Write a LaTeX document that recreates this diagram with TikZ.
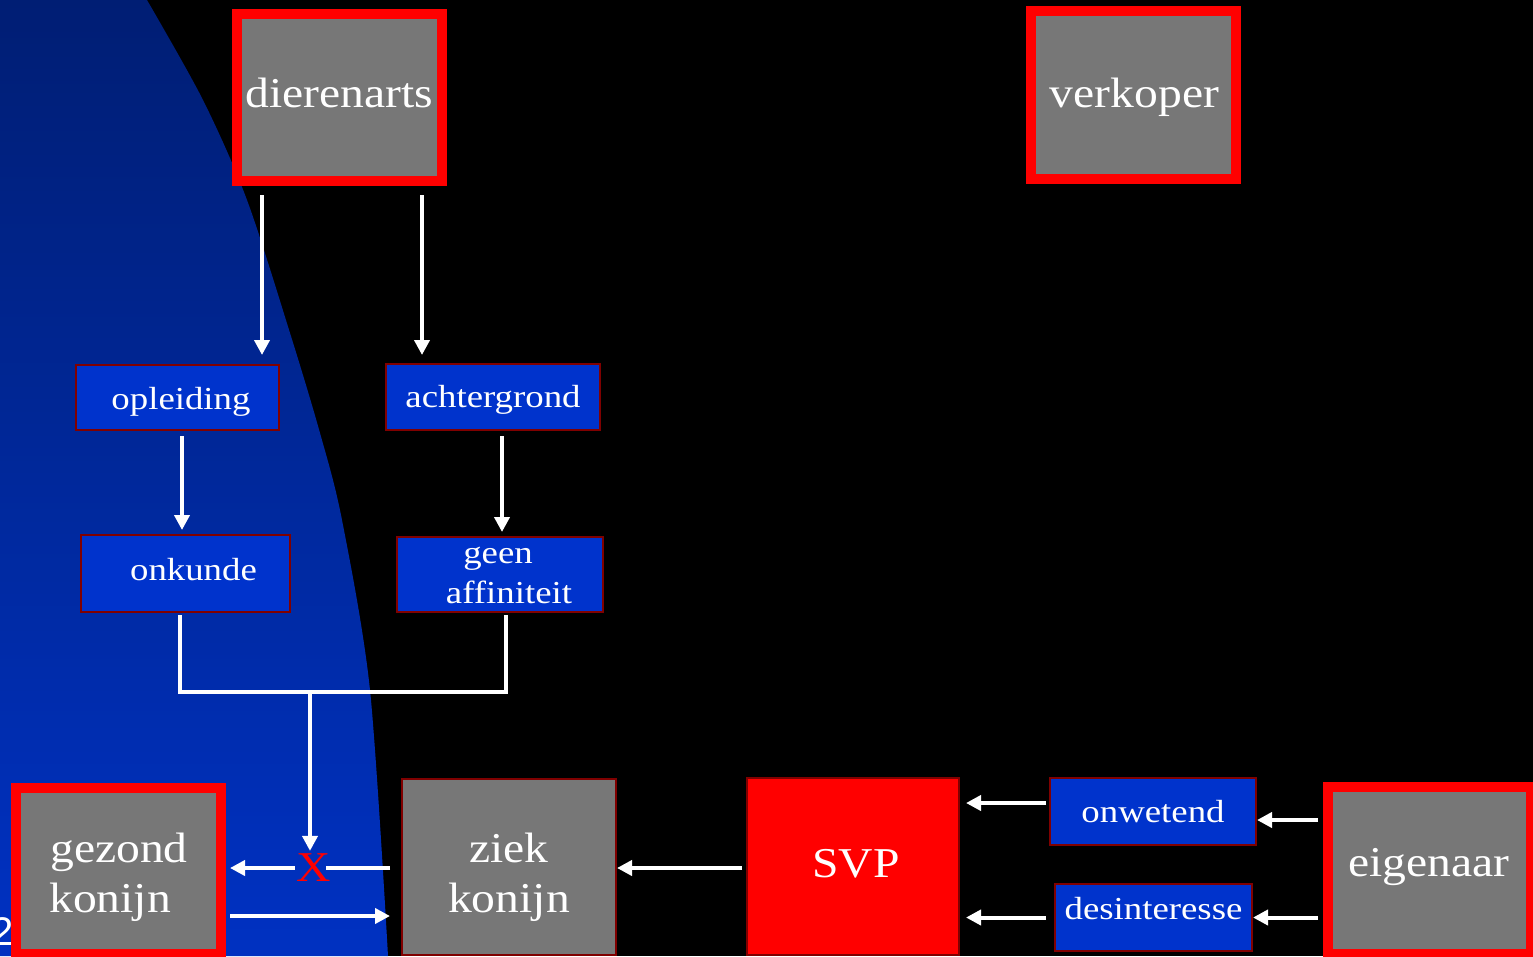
\documentclass[tikz,border=0pt]{standalone}
\usepackage{fontspec}
\setmainfont{Liberation Serif}
\newfontfamily\bigserif[FakeStretch=1.12]{Liberation Serif}
\newfontfamily\smallserif[FakeStretch=1.15]{Liberation Serif}
\newfontfamily\sansfam{Liberation Sans}
\usetikzlibrary{arrows.meta,calc}
\definecolor{boxgray}{HTML}{777777}
\definecolor{boxblue}{HTML}{0033CC}
\definecolor{edgered}{HTML}{800000}
\pgfdeclareverticalshading{bluefade}{100bp}{rgb(0bp)=(0,0.2,0.8); rgb(27bp)=(0,0.19,0.75); rgb(48bp)=(0,0.16,0.62); rgb(79bp)=(0,0.11,0.43); rgb(100bp)=(0,0.06,0.28)}
% text line with its baseline #1 below the node centre
\newcommand\lwr[2]{\raisebox{-#1}[0pt][0pt]{#2}}
\begin{document}
\begin{tikzpicture}[x=1pt,y=-1pt,
  bigbox/.style={draw=red, line width=10pt, fill=boxgray, text=white, inner sep=0pt, align=center,
    font=\bigserif\fontsize{42.5}{50}\selectfont, minimum width=205pt, minimum height=167pt},
  flatbox/.style={draw=edgered, line width=2pt, fill=boxgray, text=white, inner sep=0pt, align=center,
    font=\bigserif\fontsize{42.5}{50}\selectfont},
  svpbox/.style={draw=edgered, line width=2pt, fill=red, text=white, inner sep=0pt, align=center,
    font=\bigserif\fontsize{42.5}{50}\selectfont},
  smallbox/.style={draw=edgered, line width=2pt, fill=boxblue, text=white, inner sep=0pt, align=center,
    font=\smallserif\fontsize{32}{40}\selectfont},
  arr/.style={draw=white, line width=4pt, -{Triangle[width=15pt,length=15pt]}},
  ln/.style={draw=white, line width=4pt}
]
\useasboundingbox (0,0) rectangle (1533,956);
\fill[black] (0,0) rectangle (1533,956);
\begin{scope}
  \clip plot[smooth] coordinates {(147,0) (203,100) (247,200) (290,333) (320,433) (342,520) (370,690) (388,956)} -- (0,956) -- (0,0) -- cycle;
  \shade[shading=bluefade] (0,0) rectangle (400,956);
\end{scope}

\node[anchor=base east, text=white, inner sep=0pt, font=\sansfam\fontsize{40}{48}\selectfont] (pg) at (14,945) {2};

% big boxes
\node[bigbox] (dier) at (339.5,97.5) {\lwr{9.5pt}{dierenarts}};
\node[bigbox, minimum height=168pt] (verk) at (1133,95) {\hspace*{3pt}\lwr{12pt}{verkoper}};
\node[bigbox, align=left, minimum height=166pt] (gez) at (118,871) {\lwr{16pt}{\hspace*{2pt}gezond}\\\lwr{16pt}{\hspace*{1pt}konijn}};
\node[bigbox, minimum width=203pt] (eig) at (1429,870) {\lwr{6pt}{eigenaar}};
\node[flatbox, minimum width=214pt, minimum height=176pt] (zk) at (509,867) {\lwr{20pt}{ziek}\\\lwr{20pt}{konijn}};
\node[svpbox, minimum width=212pt, minimum height=177pt] (svp) at (853,866) {\hspace*{6pt}\lwr{11pt}{SVP}};

% small boxes
\node[smallbox, minimum width=203pt, minimum height=65pt] (opl) at (177.5,397.5) {\hspace*{7pt}\lwr{11.8pt}{opleiding}};
\node[smallbox, minimum width=214pt, minimum height=66pt] (ach) at (493,397) {\lwr{10pt}{achtergrond}};
\node[smallbox, minimum width=209pt, minimum height=77pt] (onk) at (185.5,573.5) {\hspace*{16pt}\lwr{6.5pt}{onkunde}};
\node[smallbox, minimum width=206pt, minimum height=75pt] (gaf) at (500,574.5) {\lwr{8.5pt}{geen}\hspace*{4pt}\\\hspace*{18pt}\lwr{8.5pt}{affiniteit}};
\node[smallbox, minimum width=206pt, minimum height=67pt] (onw) at (1153,811.5) {\lwr{10.5pt}{onwetend}};
\node[smallbox, minimum width=197pt, minimum height=67pt] (des) at (1153.5,917.5) {\lwr{1.5pt}{desinteresse}};

\node[text=red, inner sep=0pt, font=\bigserif\fontsize{42.5}{50}\selectfont] (xm) at (314,868) {X};
\coordinate (j) at (310,692);

% connectors
\draw[arr, shorten <=9pt, shorten >=9pt] ([xshift=-77.5pt]dier.south) -- ([xshift=-77.5pt]dier.south |- opl.north);
\draw[arr, shorten <=9pt, shorten >=8pt] ([xshift=82.5pt]dier.south) -- ([xshift=82.5pt]dier.south |- ach.north);
\draw[arr, shorten <=5pt, shorten >=4pt] ([xshift=4.5pt]opl.south) -- ([xshift=4.5pt]opl.south |- onk.north);
\draw[arr, shorten <=5pt, shorten >=4pt] ([xshift=9pt]ach.south) -- ([xshift=9pt]ach.south |- gaf.north);
\draw[ln, shorten <=2pt, shorten >=2pt] ([xshift=-5.5pt]onk.south) |- (j) -| ([xshift=6pt]gaf.south);
\draw[arr, shorten >=3pt] (j) -- (j |- xm.north);
\draw[ln, shorten <=11pt, shorten >=-5pt] (zk.west |- xm) -- (xm.east);
\draw[arr, shorten <=2pt, shorten >=4.5pt] (xm.west) -- (xm.west -| gez.east);
\draw[arr, shorten <=4.5pt, shorten >=11pt] ([yshift=-45pt]gez.east) -- ([yshift=-45pt]gez.east -| zk.west);
\draw[arr, shorten <=4pt] (svp.west |- xm) -- (zk.east |- xm);
\draw[arr, shorten <=3pt, shorten >=6pt] ([yshift=8.5pt]onw.west) -- ([yshift=8.5pt]onw.west -| svp.east);
\draw[arr, shorten <=8pt, shorten >=6pt] (des.west) -- (des.west -| svp.east);
\draw[arr, shorten <=4.5pt] ([yshift=-8.5pt]onw.east -| eig.west) -- ([yshift=-8.5pt]onw.east);
\draw[arr, shorten <=4.5pt] (des.east -| eig.west) -- (des.east);
\end{tikzpicture}
\end{document}
